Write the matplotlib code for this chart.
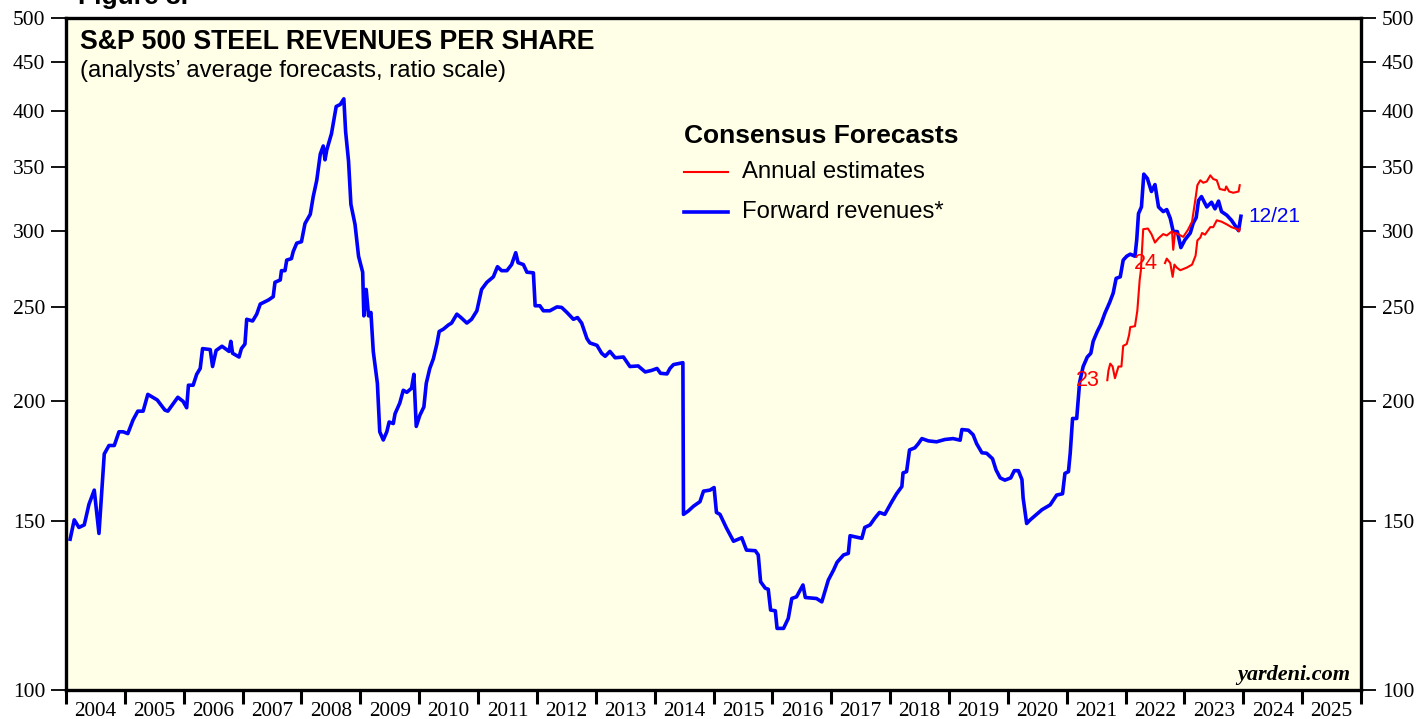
import numpy as np
import matplotlib.pyplot as plt
from matplotlib.ticker import FixedLocator, NullFormatter, FixedFormatter

########## data (decimal year, revenues per share)
fwd_years = [2004.07, 2004.14, 2004.22, 2004.31, 2004.39, 2004.48, 2004.56, 2004.65, 2004.73, 2004.82,
             2004.90, 2004.97, 2005.05, 2005.14, 2005.22, 2005.31, 2005.39, 2005.55, 2005.68, 2005.73,
             2005.90, 2005.99, 2006.05, 2006.08, 2006.16, 2006.22, 2006.28, 2006.32, 2006.45, 2006.49,
             2006.55, 2006.65, 2006.77, 2006.80, 2006.83, 2006.94, 2006.98, 2007.04, 2007.07, 2007.17,
             2007.24, 2007.30, 2007.44, 2007.52, 2007.55, 2007.64, 2007.66, 2007.72, 2007.75, 2007.83,
             2007.86, 2007.92, 2008.00, 2008.06, 2008.15, 2008.20, 2008.26, 2008.32, 2008.37, 2008.40,
             2008.43, 2008.51, 2008.59, 2008.66, 2008.72, 2008.75, 2008.80, 2008.84, 2008.91, 2008.97,
             2009.04, 2009.06, 2009.10, 2009.14, 2009.18, 2009.22, 2009.29, 2009.33, 2009.39, 2009.45,
             2009.49, 2009.56, 2009.59, 2009.67, 2009.73, 2009.79, 2009.87, 2009.91, 2009.95, 2010.01,
             2010.08, 2010.12, 2010.18, 2010.24, 2010.30, 2010.34, 2010.41, 2010.50, 2010.55, 2010.64,
             2010.71, 2010.81, 2010.89, 2010.98, 2011.06, 2011.15, 2011.26, 2011.33, 2011.40, 2011.49,
             2011.57, 2011.64, 2011.68, 2011.77, 2011.83, 2011.94, 2011.97, 2012.05, 2012.11, 2012.22,
             2012.34, 2012.42, 2012.51, 2012.62, 2012.69, 2012.76, 2012.85, 2012.90, 2013.02, 2013.10,
             2013.16, 2013.24, 2013.33, 2013.47, 2013.58, 2013.72, 2013.84, 2013.95, 2014.04, 2014.10,
             2014.21, 2014.26, 2014.32, 2014.40, 2014.48, 2014.49, 2014.57, 2014.66, 2014.77, 2014.83,
             2014.94, 2015.01, 2015.05, 2015.11, 2015.22, 2015.34, 2015.48, 2015.56, 2015.71, 2015.76,
             2015.80, 2015.88, 2015.93, 2015.97, 2016.05, 2016.08, 2016.19, 2016.27, 2016.33, 2016.41,
             2016.52, 2016.56, 2016.75, 2016.84, 2016.95, 2017.04, 2017.10, 2017.21, 2017.29, 2017.32,
             2017.52, 2017.57, 2017.66, 2017.74, 2017.82, 2017.91, 2018.03, 2018.11, 2018.20, 2018.22,
             2018.28, 2018.33, 2018.42, 2018.48, 2018.54, 2018.65, 2018.79, 2018.93, 2019.07, 2019.19,
             2019.22, 2019.33, 2019.41, 2019.47, 2019.56, 2019.64, 2019.74, 2019.80, 2019.87, 2019.95,
             2020.05, 2020.11, 2020.18, 2020.24, 2020.26, 2020.32, 2020.38, 2020.49, 2020.58, 2020.72,
             2020.83, 2020.93, 2020.97, 2021.03, 2021.06, 2021.10, 2021.17, 2021.22, 2021.28, 2021.35,
             2021.41, 2021.45, 2021.52, 2021.58, 2021.65, 2021.73, 2021.79, 2021.84, 2021.91, 2021.96,
             2022.02, 2022.08, 2022.16, 2022.19, 2022.22, 2022.27, 2022.31, 2022.37, 2022.44, 2022.50,
             2022.56, 2022.64, 2022.70, 2022.76, 2022.81, 2022.88, 2022.94, 2023.01, 2023.10, 2023.15,
             2023.20, 2023.24, 2023.29, 2023.38, 2023.46, 2023.52, 2023.58, 2023.63, 2023.72, 2023.80,
             2023.92, 2023.96]
fwd_vals = [143.5, 150.3, 147.6, 148.5, 156, 161.4, 145.5, 176, 179.6, 179.6,
            185.6, 185.6, 184.8, 191, 195, 195, 203, 200.3, 195.5, 195,
            201.6, 199.6, 196.6, 207.5, 207.5, 213, 216, 226.5, 226, 217,
            225.5, 227.8, 225, 230.5, 224, 222, 226.5, 229, 243, 242,
            246, 252, 254.5, 256.5, 265.5, 267, 273, 273, 280, 281,
            285.8, 291.6, 292.6, 305.6, 312.5, 326, 339, 361, 368, 356,
            364.5, 379, 404.5, 406.5, 412, 381, 354.8, 320, 305, 282.6,
            272, 245, 261, 245, 247, 225, 208.4, 185.6, 182, 185.6,
            190, 189.3, 193.8, 198.8, 205, 204, 206, 213, 188, 193,
            197, 208.4, 216, 221, 229, 236, 237.3, 239.8, 240.8, 246,
            244, 240.8, 243, 248, 261, 265.5, 269, 275.6, 273, 273,
            277, 285, 278.3, 277, 272, 271.6, 251, 251, 248, 248,
            250.3, 250, 247, 243, 244, 240.8, 232, 229.6, 228.3, 224,
            222.4, 225, 221.6, 222, 217, 217.3, 214.2, 215, 216, 213.5,
            213.2, 216, 218, 218.5, 219, 152.3, 153.5, 155.3, 157, 161,
            161.4, 162.4, 153, 152.3, 147.4, 142.8, 144, 139.8, 139.6, 138.2,
            129.6, 127.6, 127.3, 121.1, 120.9, 115.9, 115.9, 118.7, 124.5, 125,
            128.6, 124.8, 124.5, 123.5, 130.1, 133.3, 135.8, 138.2, 138.7, 144.7,
            143.8, 147.6, 148.5, 150.9, 153, 152.3, 157, 160, 162.8, 168.2,
            168.7, 177.7, 178.6, 180.4, 182.6, 181.6, 181.2, 182.2, 182.6, 181.9,
            186.6, 186.3, 184.3, 180.4, 176.5, 176.3, 174, 169.4, 166.2, 165.3,
            166.2, 169.1, 169.1, 165.5, 158.4, 149, 150.3, 152.3, 154, 155.8,
            159.5, 160, 168, 168.7, 176.3, 191.6, 191.6, 209, 217, 222,
            224, 230.5, 236, 240, 246.6, 253, 258.7, 268, 269, 280,
            282.6, 284, 282.6, 294, 313, 318, 344, 340.5, 330, 335.5,
            318, 314.5, 316, 309.4, 299.8, 299.8, 288.5, 294, 298.8, 306,
            310, 323, 326, 318, 321.6, 316.6, 322.5, 314.5, 311.8, 308,
            300.5, 311]

est23_years = [2021.69, 2021.71, 2021.74, 2021.78, 2021.82, 2021.88, 2021.93, 2021.96, 2022.02, 2022.06,
               2022.08, 2022.16, 2022.20, 2022.24, 2022.26, 2022.30, 2022.38, 2022.44, 2022.50, 2022.56,
               2022.64, 2022.70, 2022.79, 2022.81, 2022.84, 2022.89, 2022.98, 2023.06, 2023.13, 2023.19,
               2023.22, 2023.27, 2023.32, 2023.38, 2023.44, 2023.49, 2023.55, 2023.60, 2023.69, 2023.71,
               2023.76, 2023.83, 2023.92, 2023.94]
est23_vals = [210, 215, 218.5, 217, 211, 217, 217, 228, 229, 234,
              238.5, 239, 248, 267, 273, 301.5, 302, 298, 292, 295,
              298, 297, 300, 287, 299, 298, 296, 301, 307, 325,
              335, 339, 337, 338, 343, 340, 339, 332, 331, 334,
              330, 329, 330, 335]

est24_years = [2022.67, 2022.70, 2022.76, 2022.80, 2022.83, 2022.87, 2022.93, 2023.04, 2023.13, 2023.19,
               2023.22, 2023.27, 2023.30, 2023.35, 2023.44, 2023.49, 2023.55, 2023.63, 2023.72, 2023.80,
               2023.90, 2023.93, 2023.94]
est24_vals = [278, 281, 278, 269, 277, 275, 273.3, 275, 277, 283,
              293.5, 295.5, 298.8, 297.6, 303, 303, 308, 307, 305, 303,
              301.5, 300, 302]

y_ticks = [100, 150, 200, 250, 300, 350, 400, 450, 500]
years = list(range(2004, 2026))

bg = '#fffee6'
blue = '#0000ff'
red = '#ff0000'

fig = plt.figure(figsize=(14.16, 7.19), dpi=100)
ax = fig.add_axes([66/1416, 1 - 690/719, (1361 - 66)/1416, (690 - 18)/719])
ax.set_facecolor(bg)

ax.plot(fwd_years, fwd_vals, color=blue, lw=2.6, solid_joinstyle='round')
ax.plot(est23_years, est23_vals, color=red, lw=1.5)
ax.plot(est24_years, est24_vals, color=red, lw=1.5)

ax.set_yscale('log')
ax.set_ylim(100, 500)
ax.set_xlim(2004, 2026)

# y axis, labels on both sides
ax.yaxis.set_major_locator(FixedLocator(y_ticks))
ax.yaxis.set_major_formatter(FixedFormatter([str(v) for v in y_ticks]))
ax.yaxis.set_minor_locator(FixedLocator([]))
ax.yaxis.set_minor_formatter(NullFormatter())
ax.tick_params(axis='y', which='major', direction='out', length=11, width=1.3,
               left=True, right=True, labelleft=True, labelright=True, pad=4,
               labelsize=15.5)
for lab in ax.get_yticklabels():
    lab.set_family('Liberation Serif')

# x axis: ticks at year boundaries, labels in the middle
ax.xaxis.set_major_locator(FixedLocator(years + [2026]))
ax.xaxis.set_major_formatter(NullFormatter())
ax.xaxis.set_minor_locator(FixedLocator([y + 0.5 for y in years]))
ax.xaxis.set_minor_formatter(FixedFormatter([str(y) for y in years]))
ax.tick_params(axis='x', which='major', direction='out', length=10, width=2.2)
ax.tick_params(axis='x', which='minor', length=0, pad=9, labelsize=15.3)
for lab in ax.get_xticklabels(minor=True):
    lab.set_family('Liberation Serif')

for s in ax.spines.values():
    s.set_linewidth(2.4)

# texts
ax.text(0.011, 0.984, 'S&P 500 STEEL REVENUES PER SHARE', transform=ax.transAxes,
        fontsize=19.2, fontweight='bold', family='Liberation Sans', va='top')
ax.text(0.011, 0.937, '(analysts\u2019 average forecasts, ratio scale)', transform=ax.transAxes,
        fontsize=17.2, family='Liberation Sans', va='top')
fig.text(78/1416, 1 - 4/719, 'Figure 3.', fontsize=19, fontweight='bold',
         family='Liberation Sans', va='baseline')

ax.text(0.477, 0.825, 'Consensus Forecasts', transform=ax.transAxes,
        fontsize=19, fontweight='bold', family='Liberation Sans', va='center')
ax.plot([0.477, 0.511], [0.771, 0.771], transform=ax.transAxes, color=red, lw=1.5)
ax.plot([0.477, 0.511], [0.711, 0.711], transform=ax.transAxes, color=blue, lw=2.6)
ax.text(0.522, 0.771, 'Annual estimates', transform=ax.transAxes,
        fontsize=17.2, family='Liberation Sans', va='center')
ax.text(0.522, 0.711, 'Forward revenues*', transform=ax.transAxes,
        fontsize=17.2, family='Liberation Sans', va='center')

ax.text(fwd_years[-1] + 0.12, fwd_vals[-1], '12/21', color=blue, fontsize=15,
        family='Liberation Sans', va='center')
ax.text(est23_years[0] - 0.12, est23_vals[0], '23', color=red, fontsize=15.5,
        family='Liberation Sans', va='center', ha='right')
ax.text(est24_years[0] - 0.12, est24_vals[0], '24', color=red, fontsize=15.5,
        family='Liberation Sans', va='center', ha='right')

ax.text(0.992, 0.008, 'yardeni.com', transform=ax.transAxes, fontsize=16,
        fontweight='bold', fontstyle='italic', family='Liberation Serif',
        ha='right', va='bottom')

fig.savefig('out.png', dpi=100, facecolor='white')
